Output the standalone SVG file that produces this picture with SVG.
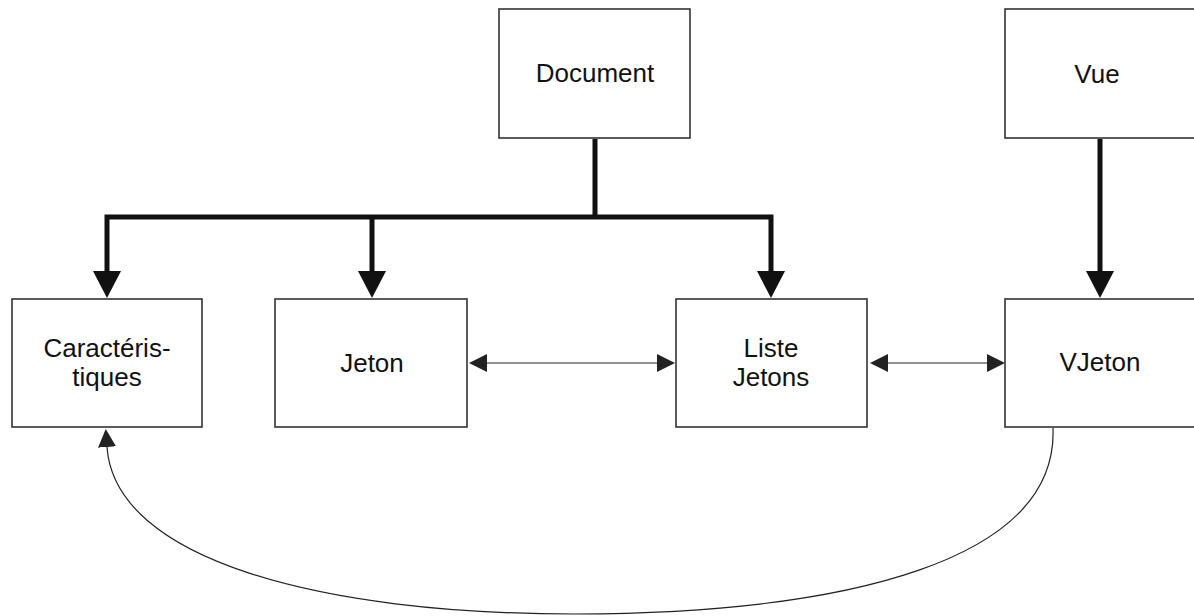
<svg xmlns="http://www.w3.org/2000/svg" width="1194" height="616" viewBox="0 0 1194 616">
<style>
.box{fill:#fff;stroke:#333;stroke-width:1.6}
.lbl{font-family:"Liberation Sans",Arial,sans-serif;font-size:26px;fill:#111;text-anchor:middle}
.thick{fill:none;stroke:#111;stroke-width:5}
.thin{fill:none;stroke:#222;stroke-width:1.2}
</style>
<defs>
<marker id="big" markerUnits="userSpaceOnUse" viewBox="0 -14 27 28" refX="0" refY="0" markerWidth="27" markerHeight="28" orient="auto">
<path d="M0,-14 L27,0 L0,14 Z" fill="#111"/>
</marker>
<marker id="small" markerUnits="userSpaceOnUse" viewBox="0 -9 18 18" refX="0" refY="0" markerWidth="18" markerHeight="18" orient="auto-start-reverse">
<path d="M0,-9 L18,0 L0,9 Z" fill="#222"/>
</marker>
</defs>
<g id="connectors">
<path class="thick" d="M595,139 V217"/>
<path class="thick" d="M595,217 H107 V271" marker-end="url(#big)"/>
<path class="thick" d="M372,217 V271" marker-end="url(#big)"/>
<path class="thick" d="M595,217 H771 V271" marker-end="url(#big)"/>
<path class="thick" d="M1100,139 V271" marker-end="url(#big)"/>
<path class="thin" d="M487,363 H657" marker-start="url(#small)" marker-end="url(#small)"/>
<path class="thin" d="M888,363 H987" marker-start="url(#small)" marker-end="url(#small)"/>
<path class="thin" d="M1053,428 C1058,560 850,613 575,614 C320,614 115,560 107,447" marker-end="url(#small)"/>
</g>
<g id="document"><rect class="box" x="499" y="9" width="191" height="129"/><text class="lbl" x="595" y="82">Document</text></g>
<g id="vue"><rect class="box" x="1005" y="9" width="192" height="129"/><text class="lbl" x="1097" y="83">Vue</text></g>
<g id="caracteristiques"><rect class="box" x="12" y="299" width="190" height="128"/><text class="lbl" x="107" y="357">Caractéris-</text><text class="lbl" x="107" y="386">tiques</text></g>
<g id="jeton"><rect class="box" x="275" y="299" width="192" height="128"/><text class="lbl" x="372" y="372">Jeton</text></g>
<g id="listejetons"><rect class="box" x="676" y="299" width="191" height="128"/><text class="lbl" x="771" y="357">Liste</text><text class="lbl" x="771" y="386">Jetons</text></g>
<g id="vjeton"><rect class="box" x="1005" y="299" width="192" height="128"/><text class="lbl" x="1100" y="371">VJeton</text></g>
</svg>
